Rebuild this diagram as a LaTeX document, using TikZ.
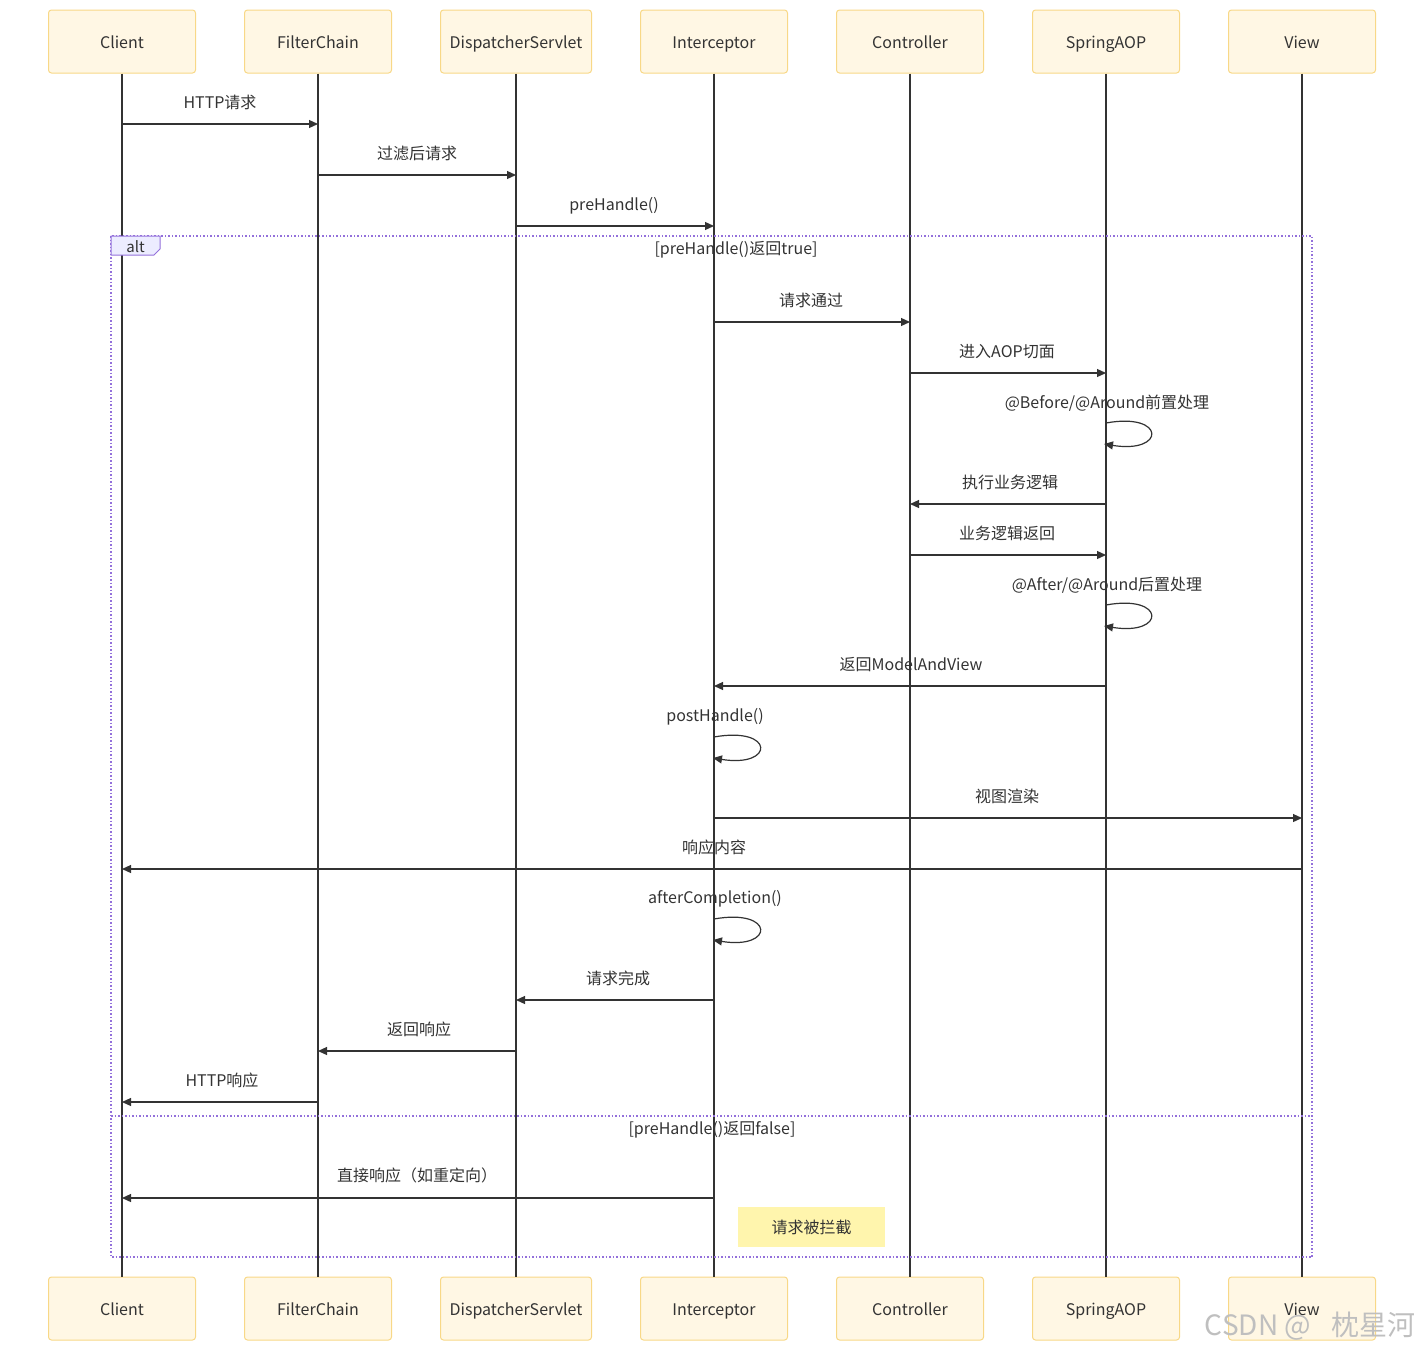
\documentclass[tikz,border=0pt]{standalone}
\usepackage{fontspec}
\setmainfont{Noto Sans CJK SC}
\usetikzlibrary{arrows.meta}
\definecolor{boxfill}{HTML}{FFF7E4}
\definecolor{boxline}{HTML}{F8D887}
\definecolor{ink}{HTML}{333333}
\definecolor{altline}{HTML}{9370DB}
\definecolor{altfill}{HTML}{ECECFF}
\definecolor{notefill}{HTML}{FFF5AD}
\begin{document}
\begin{tikzpicture}[x=1pt,y=-1pt,
  font=\fontsize{16}{19}\selectfont, text=ink,
  actor/.style={draw=boxline, fill=boxfill, line width=1pt, rounded corners=3pt,
    minimum width=147pt, minimum height=63pt, inner sep=0pt, text height=16pt, text depth=2pt},
  life/.style={draw=ink, line width=1.8pt},
  msg/.style={draw=ink, line width=1.2pt, -{Triangle[length=9pt,width=8pt]}},
  lbl/.style={inner sep=0pt, anchor=center, text height=12pt, text depth=4pt, yshift=-2pt},
  altb/.style={draw=altline, line width=1.5pt, dotted}
]
\useasboundingbox (0,0) rectangle (1424,1352);
% actors top
\node[actor] (cT) at (122,41.5) {Client};
\node[actor] (fT) at (318,41.5) {FilterChain};
\node[actor, minimum width=151pt] (dT) at (516,41.5) {DispatcherServlet};
\node[actor] (iT) at (714,41.5) {Interceptor};
\node[actor] (kT) at (910,41.5) {Controller};
\node[actor] (aT) at (1106,41.5) {SpringAOP};
\node[actor] (vT) at (1302,41.5) {View};
% actors bottom
\node[actor] (cB) at (122,1308.5) {Client};
\node[actor] (fB) at (318,1308.5) {FilterChain};
\node[actor, minimum width=151pt] (dB) at (516,1308.5) {DispatcherServlet};
\node[actor] (iB) at (714,1308.5) {Interceptor};
\node[actor] (kB) at (910,1308.5) {Controller};
\node[actor] (aB) at (1106,1308.5) {SpringAOP};
\node[actor] (vB) at (1302,1308.5) {View};
% lifelines
\foreach \a in {c,f,d,i,k,a,v}{\draw[life] (\a T.south) -- (\a B.north);}
% alt frame
\draw[altb] (111,236) rectangle (1312,1257);
\draw[altb] (111,1116) -- (1312,1116);
\draw[draw=altline, fill=altfill, line width=1pt] (111,236) -- (160,236) -- (160,249) -- (154,255) -- (111,255) -- cycle;
\node[lbl, font=\fontsize{15}{18}\selectfont] (altlbl) at (135.5,246) {alt};
\node[lbl] (g1) at (736,248) {[preHandle()返回true]};
\node[lbl] (g2) at (712,1128) {[preHandle()返回false]};
% messages
\draw[msg] (cT |- 0,124) -- (fT |- 0,124);
\node[lbl] (l1) at (220,102) {HTTP请求};
\draw[msg] (fT |- 0,175) -- (dT |- 0,175);
\node[lbl] (l2) at (417,153) {过滤后请求};
\draw[msg] (dT |- 0,226) -- (iT |- 0,226);
\node[lbl] (l3) at (614,204) {preHandle()};
\draw[msg] (iT |- 0,322) -- (kT |- 0,322);
\node[lbl] (l4) at (811,300) {请求通过};
\draw[msg] (kT |- 0,373) -- (aT |- 0,373);
\node[lbl] (l5) at (1007,351) {进入AOP切面};
\node[lbl] (l6) at (1107,402) {@Before/@Around前置处理};
\draw[msg] (aT |- 0,423) .. controls (1166,412) and (1166,454) .. (1104,444);
\draw[msg] (aT |- 0,504) -- (kT |- 0,504);
\node[lbl] (l7) at (1010,482) {执行业务逻辑};
\draw[msg] (kT |- 0,555) -- (aT |- 0,555);
\node[lbl] (l8) at (1007,533) {业务逻辑返回};
\node[lbl] (l9) at (1107,584) {@After/@Around后置处理};
\draw[msg] (aT |- 0,605) .. controls (1166,594) and (1166,636) .. (1104,626);
\draw[msg] (aT |- 0,686) -- (iT |- 0,686);
\node[lbl] (l10) at (911,664) {返回ModelAndView};
\node[lbl] (l11) at (715,715) {postHandle()};
\draw[msg] (iT |- 0,737) .. controls (775,726) and (775,768) .. (713,758);
\draw[msg] (iT |- 0,818) -- (vT |- 0,818);
\node[lbl] (l12) at (1007,796) {视图渲染};
\draw[msg] (vT |- 0,869) -- (cT |- 0,869);
\node[lbl] (l13) at (714,847) {响应内容};
\node[lbl] (l14) at (715,897) {afterCompletion()};
\draw[msg] (iT |- 0,919) .. controls (775,908) and (775,950) .. (713,940);
\draw[msg] (iT |- 0,1000) -- (dT |- 0,1000);
\node[lbl] (l15) at (618,978) {请求完成};
\draw[msg] (dT |- 0,1051) -- (fT |- 0,1051);
\node[lbl] (l16) at (419,1029) {返回响应};
\draw[msg] (fT |- 0,1102) -- (cT |- 0,1102);
\node[lbl] (l17) at (222,1080) {HTTP响应};
\draw[msg] (iT |- 0,1198) -- (cT |- 0,1198);
\node[lbl] (l18) at (417,1175) {直接响应（如重定向）};
% note
\node[fill=notefill, minimum width=147pt, minimum height=40pt, inner sep=0pt] (note) at (811.5,1227) {};
\node[lbl] (notetext) at (note.center) {请求被拦截};
% watermark
\node[inner sep=0pt, text=black!25, font=\fontsize{28}{32}\selectfont] (wm) at (1310,1326) {CSDN @\hspace{20pt}枕星河};
\end{tikzpicture}
\end{document}
